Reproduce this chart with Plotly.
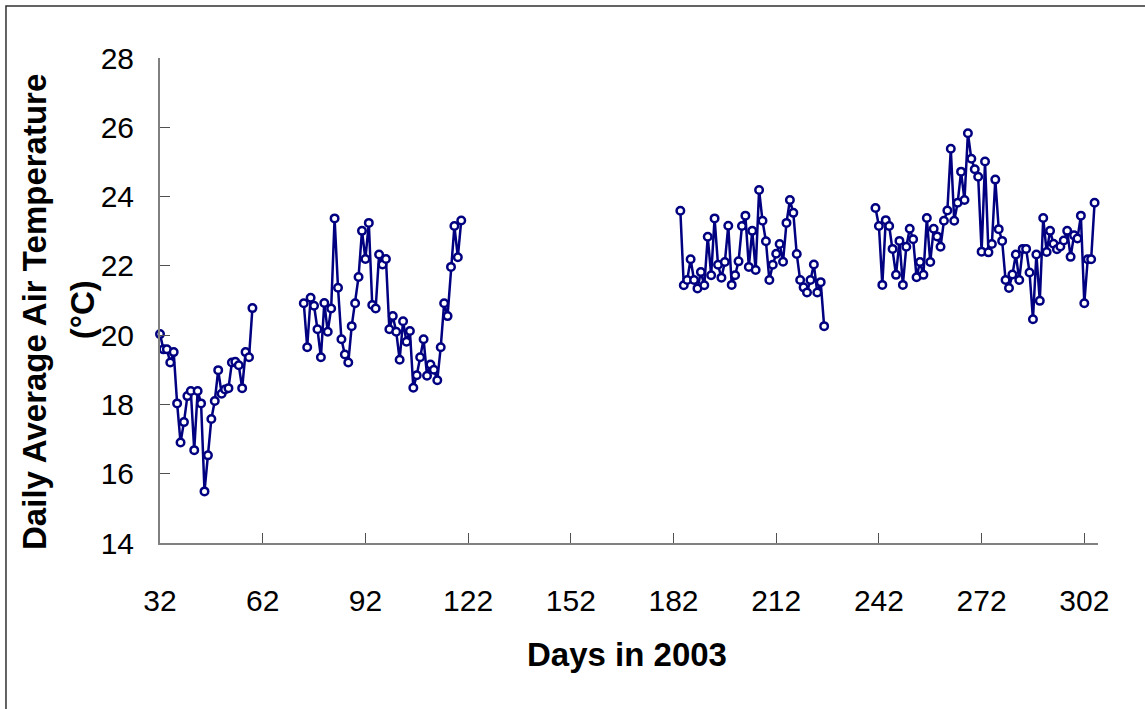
import plotly.graph_objects as go

# Daily average air temperature (°C), recorded in four runs of consecutive days
run1_start = 32
run1_temp = [20.03, 19.59, 19.59, 19.21, 19.51, 18.03, 16.90, 17.49, 18.24, 18.39,
             16.68, 18.39, 18.03, 15.49, 16.53, 17.58, 18.10, 18.99, 18.31, 18.43,
             18.47, 19.21, 19.23, 19.13, 18.47, 19.51, 19.36, 20.78]

run2_start = 74
run2_temp = [20.92, 19.65, 21.08, 20.85, 20.17, 19.36, 20.93, 20.10, 20.77, 23.37,
             21.37, 19.88, 19.44, 19.21, 20.26, 20.92, 21.68, 23.01, 22.20, 23.24,
             20.87, 20.77, 22.33, 22.04, 22.20, 20.17, 20.55, 20.10, 19.29, 20.40,
             19.81, 20.12, 18.48, 18.84, 19.36, 19.88, 18.83, 19.15, 19.00, 18.70,
             19.65, 20.92, 20.55, 21.97, 23.15, 22.25, 23.31]

run3_start = 184
run3_temp = [23.59, 21.44, 21.59, 22.19, 21.59, 21.35, 21.82, 21.44, 22.84, 21.73,
             23.37, 22.03, 21.66, 22.11, 23.16, 21.45, 21.73, 22.13, 23.15, 23.45,
             21.97, 23.01, 21.88, 24.19, 23.30, 22.71, 21.59, 22.03, 22.35, 22.63,
             22.12, 23.24, 23.90, 23.53, 22.34, 21.59, 21.38, 21.23, 21.59, 22.04,
             21.23, 21.53, 20.26]

run4_start = 241
run4_temp = [23.67, 23.15, 21.45, 23.32, 23.15, 22.49, 21.74, 22.72, 21.45, 22.55,
             23.07, 22.77, 21.67, 22.11, 21.74, 23.38, 22.11, 23.07, 22.85, 22.55,
             23.30, 23.60, 25.38, 23.30, 23.82, 24.72, 23.90, 25.83, 25.09, 24.79,
             24.57, 22.41, 25.01, 22.39, 22.63, 24.49, 23.06, 22.72, 21.59, 21.36,
             21.75, 22.33, 21.59, 22.49, 22.49, 21.81, 20.46, 22.33, 20.99, 23.38,
             22.40, 23.01, 22.64, 22.48, 22.56, 22.73, 23.01, 22.26, 22.88, 22.79,
             23.45, 20.92, 22.19, 22.19, 23.82]

x_ticks = [32, 62, 92, 122, 152, 182, 212, 242, 272, 302]
y_ticks = [14, 16, 18, 20, 22, 24, 26, 28]

runs = [(run1_start, run1_temp), (run2_start, run2_temp),
        (run3_start, run3_temp), (run4_start, run4_temp)]

# Join the runs into one trace, with a break between runs
days, temps = [], []
for start, vals in runs:
    days += list(range(start, start + len(vals)))
    temps += vals
    days.append(None)
    temps.append(None)

NAVY = "#000080"
FONT = "Liberation Sans, Arial, sans-serif"

fig = go.Figure()
fig.add_trace(go.Scatter(
    x=days, y=temps, mode="lines+markers",
    line=dict(color=NAVY, width=2.5),
    marker=dict(symbol="circle", size=7.5, color="white",
                line=dict(color=NAVY, width=2.5)),
    connectgaps=False, cliponaxis=False, showlegend=False,
))

axis_common = dict(
    showline=True, linecolor="#808080", linewidth=2,
    ticks="inside", ticklen=10, tickwidth=1, tickcolor="#505050",
    showgrid=False, zeroline=False,
    tickfont=dict(family=FONT, size=30, color="black"),
)

fig.update_xaxes(range=[32, 306], tickvals=x_ticks, ticklabelstandoff=30,
                 **axis_common)
fig.update_yaxes(range=[14, 28], tickvals=y_ticks, ticklabelstandoff=18,
                 **axis_common)

title_font = dict(family=FONT, size=33, color="black")
fig.add_annotation(text="<b>Days in 2003</b>", xref="paper", yref="paper",
                   x=0.4979, y=-0.2309, xanchor="center", yanchor="middle",
                   showarrow=False, font=title_font)
fig.add_annotation(text="<b>Daily Average Air Temperature</b>", xref="paper",
                   yref="paper", x=-0.1333, y=0.4763, xanchor="center",
                   yanchor="middle", textangle=-90, showarrow=False,
                   font=title_font)
fig.add_annotation(text="<b>(°C)</b>", xref="paper", yref="paper",
                   x=-0.0830, y=0.4804, xanchor="center", yanchor="middle",
                   textangle=-90, showarrow=False, font=title_font)

# Outer frame of the chart
fig.add_shape(type="rect", xref="paper", yref="paper",
              x0=-0.1642, y0=-0.3546, x1=1.0554, y1=1.1072,
              line=dict(color="#303030", width=1.5), layer="below")

fig.update_layout(
    width=1145, height=709,
    margin=dict(l=160, r=47, t=58, b=166),
    paper_bgcolor="white", plot_bgcolor="white",
)

fig.write_html("out.html")
